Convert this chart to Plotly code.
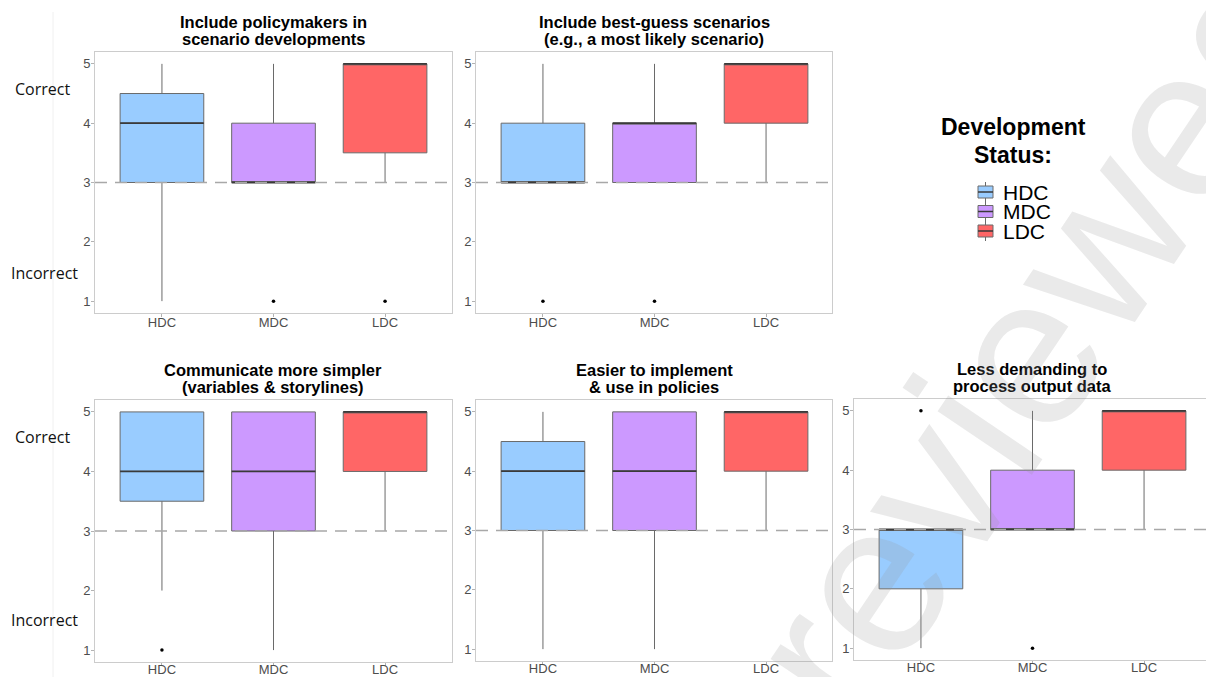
import plotly.graph_objects as go

W, H = 1206, 677

# ---- data -------------------------------------------------------------
groups = ["HDC", "MDC", "LDC"]
group_colors = ["#99CCFF", "#CC99FF", "#FF6666"]

panel_titles = [
    ["Include policymakers in", "scenario developments"],
    ["Include best-guess scenarios", "(e.g., a most likely scenario)"],
    ["Communicate more simpler", "(variables & storylines)"],
    ["Easier to implement", "& use in policies"],
    ["Less demanding to", "process output data"],
]

# five-number summaries, one row per panel, columns follow `groups`
lower_whisker = [[1, 3, 3], [3, 3, 3], [2, 1, 3], [1, 1, 3], [1, 3, 3]]
q1_values     = [[3, 3, 3.5], [3, 3, 4], [3.5, 3, 4], [3, 3, 4], [2, 3, 4]]
median_values = [[4, 3, 5], [3, 4, 5], [4, 4, 5], [4, 4, 5], [3, 3, 5]]
q3_values     = [[4.5, 4, 5], [4, 4, 5], [5, 5, 5], [4.5, 5, 5], [3, 4, 5]]
upper_whisker = [[5, 5, 5], [5, 5, 5], [5, 5, 5], [5, 5, 5], [3, 5, 5]]

# outlying responses per panel
outlier_groups = [["MDC", "LDC"], ["HDC", "MDC"], ["HDC"], [], ["HDC", "MDC"]]
outlier_values = [[1, 1], [1, 1], [1], [], [5, 1]]

y_ticks = [1, 2, 3, 4, 5]
neutral_score = 3
side_labels = ["Correct", "Incorrect"]
legend_title = ["Development", "Status:"]

# ---- layout geometry (pixels: left, right, top, bottom) ---------------
panels = [
    (95, 452, 52, 313),
    (476, 832, 52, 313),
    (95, 452, 400, 662),
    (476, 832, 400, 661),
    (854, 1206, 399, 660),
]
title_centers = [273, 654, 273, 654, 1032]
px_per_cat = 357 / 3.2


def xfrac(px):
    return px / W


def yfrac(py):
    return 1 - py / H


fig = go.Figure()
layout_axes = {}
shapes = []
annotations = []


def text_note(txt, cx, cy, size, bold=False, family="Liberation Sans, Arial",
              color="black", xanchor="center"):
    annotations.append(dict(
        text=f"<b>{txt}</b>" if bold else txt, x=xfrac(cx), y=yfrac(cy),
        xref="paper", yref="paper", xanchor=xanchor, yanchor="middle",
        showarrow=False, font=dict(family=family, size=size, color=color),
    ))


for i, (left, right, top, bottom) in enumerate(panels):
    k = i + 1
    xa = "x" if k == 1 else f"x{k}"
    ya = "y" if k == 1 else f"y{k}"

    for j, g in enumerate(groups):
        fig.add_trace(go.Box(
            x=[g], q1=[q1_values[i][j]], median=[median_values[i][j]],
            q3=[q3_values[i][j]], lowerfence=[lower_whisker[i][j]],
            upperfence=[upper_whisker[i][j]], orientation="v",
            fillcolor=group_colors[j], line=dict(color="#6a6a6a", width=1),
            whiskerwidth=0, width=0.75, showlegend=False, hoverinfo="skip",
            xaxis=xa, yaxis=ya,
        ))
        # heavier median bar on top of the box
        m = median_values[i][j]
        fig.add_trace(go.Box(
            x=[g], q1=[m], median=[m], q3=[m], lowerfence=[m], upperfence=[m],
            orientation="v", fillcolor="rgba(0,0,0,0)",
            line=dict(color="#3a3a3a", width=1.8), whiskerwidth=0, width=0.75,
            showlegend=False, hoverinfo="skip", xaxis=xa, yaxis=ya,
        ))

    if outlier_values[i]:
        fig.add_trace(go.Scatter(
            x=outlier_groups[i], y=outlier_values[i], mode="markers",
            marker=dict(size=3.5, color="black"), showlegend=False,
            hoverinfo="skip", xaxis=xa, yaxis=ya,
        ))

    x_hi = -0.6 + (right - left) / px_per_cat
    axis_common = dict(
        showline=True, linecolor="#cccccc", linewidth=1,
        ticks="outside", ticklen=3, tickcolor="#b3b3b3",
        tickfont=dict(family="Liberation Sans, Arial", size=13, color="#4d4d4d"),
        showgrid=False, zeroline=False, fixedrange=True,
    )
    layout_axes["xaxis" if k == 1 else f"xaxis{k}"] = dict(
        axis_common, domain=[xfrac(left), xfrac(right)], anchor=ya,
        type="category", categoryorder="array", categoryarray=groups,
        range=[-0.6, x_hi], mirror=True,
        ticklabelstandoff=-6 if k <= 2 else -8,
    )
    layout_axes["yaxis" if k == 1 else f"yaxis{k}"] = dict(
        axis_common, domain=[yfrac(bottom), yfrac(top)], anchor=xa,
        range=[0.8, 5.2], tickvals=y_ticks, mirror=(k != 5),
        ticklabelstandoff=-2,
    )

    shapes.append(dict(
        type="line", xref=f"{xa} domain", x0=0, x1=1, yref=ya,
        y0=neutral_score, y1=neutral_score, layer="above",
        line=dict(color="#a8a8a8", width=1.5, dash="12px,8px"),
    ))

    # two-line bold panel title
    text_note(panel_titles[i][0], title_centers[i], top - 30, 16.5, bold=True)
    text_note(panel_titles[i][1], title_centers[i], top - 13, 16.5, bold=True)

# row-side labels
for (cy_c, cy_i) in [(89, 273), (437, 620)]:
    text_note(side_labels[0], 42, cy_c, 16, family="Open Sans", color="#111111")
    text_note(side_labels[1], 45, cy_i, 16, family="Open Sans", color="#111111")

# faint page rule on the left
shapes.append(dict(type="line", xref="paper", yref="paper",
                   x0=xfrac(53), x1=xfrac(53), y0=yfrac(12), y1=0,
                   line=dict(color="#f0f0f0", width=1)))

# legend block
text_note(legend_title[0], 1013, 127, 23, bold=True)
text_note(legend_title[1], 1013, 155, 23, bold=True)
for j, g in enumerate(groups):
    cy = 192 + j * 19.5
    shapes.append(dict(type="line", xref="paper", yref="paper",
                       x0=xfrac(985.5), x1=xfrac(985.5), y0=yfrac(cy - 10), y1=yfrac(cy + 10),
                       line=dict(color="#6a6a6a", width=1)))
    shapes.append(dict(type="rect", xref="paper", yref="paper",
                       x0=xfrac(978), x1=xfrac(993), y0=yfrac(cy - 6), y1=yfrac(cy + 6),
                       fillcolor=group_colors[j], line=dict(color="#6a6a6a", width=1)))
    shapes.append(dict(type="line", xref="paper", yref="paper",
                       x0=xfrac(978), x1=xfrac(993), y0=yfrac(cy), y1=yfrac(cy),
                       line=dict(color="#3a3a3a", width=1.5)))
    text_note(g, 1001, cy, 21, xanchor="left")

# diagonal watermark
annotations.append(dict(
    text="reviewed", x=xfrac(1035), y=yfrac(336), xref="paper", yref="paper",
    xanchor="center", yanchor="middle", showarrow=False, textangle=-56,
    font=dict(family="Liberation Sans, Arial", size=215, color="rgba(150,150,150,0.2)"),
))

fig.update_layout(
    width=W, height=H,
    margin=dict(l=0, r=0, t=0, b=0, autoexpand=False),
    paper_bgcolor="white", plot_bgcolor="white",
    boxmode="overlay", showlegend=False,
    shapes=shapes, annotations=annotations,
    **layout_axes,
)

fig.write_html("out.html")
